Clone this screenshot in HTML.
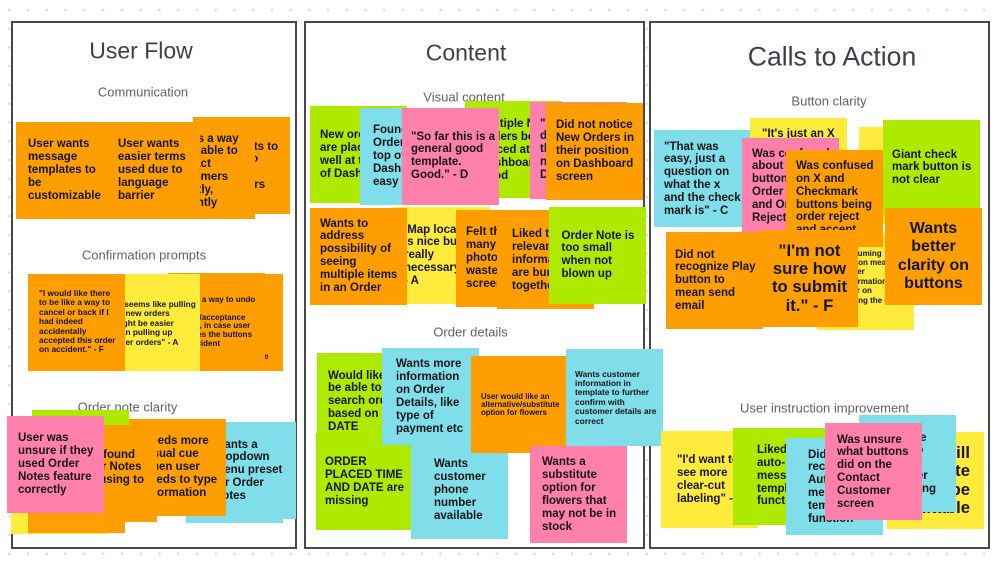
<!DOCTYPE html>
<html><head><meta charset="utf-8"><style>
html,body{margin:0;padding:0;width:1000px;height:563px;overflow:hidden;background:#fff}
#r{position:relative;width:1000px;height:563px;overflow:hidden;background-color:#fff;background-image:radial-gradient(circle at center,#dedede 0,#dedede 1.1px,transparent 1.6px);background-size:18.75px 18.75px;background-position:0 .6px;font-family:"Liberation Sans",sans-serif}
.pn{position:absolute;background:#fff;border:2px solid #45484c;box-sizing:border-box;top:21px;height:528px}
.t{position:absolute;white-space:nowrap;transform:translate(-50%,-50%);color:#3c4148}
.l{position:absolute;white-space:nowrap;transform:translate(-50%,-50%);color:#5f6266;font-size:13px}
.s{position:absolute;width:97px;height:97px;overflow:hidden}
.s p{position:absolute;margin:0;white-space:nowrap;font-weight:bold;font-size:11.5px;line-height:12.9px;color:#151515}
.o{background:#ff9e00}.y{background:#ffeb3b}.g{background:#aeea00}.c{background:#80deea}.k{background:#ff80ab}
</style></head><body><div id="r">
<div class="pn" style="left:11px;width:286px"></div>
<div class="pn" style="left:304px;width:341px"></div>
<div class="pn" style="left:649px;width:341px"></div>

<div class="t" style="left:141px;top:51px;font-size:23px">User Flow</div>
<div class="t" style="left:466px;top:53px;font-size:23px">Content</div>
<div class="t" style="left:832px;top:57px;font-size:26.6px">Calls to Action</div>
<div class="l" style="left:143px;top:92px">Communication</div>
<div class="l" style="left:144px;top:255px">Confirmation prompts</div>
<div class="l" style="left:127.5px;top:407px">Order note clarity</div>
<div class="l" style="left:464px;top:96.5px">Visual content</div>
<div class="l" style="left:470.5px;top:332px">Order details</div>
<div class="l" style="left:829px;top:101px">Button clarity</div>
<div class="l" style="left:824.5px;top:407.5px">User instruction improvement</div>

<!-- User Flow: Communication -->
<div class="s o" style="left:193px;top:117px"><p style="left:37px;top:23.5px">Wants to<br>go to<br><br>others</p></div>
<div class="s o" style="left:158px;top:122px"><p style="left:12px;top:10.5px">Wants a way<br>to be able to<br>contact<br>customers<br>directly,<br>instantly</p></div>
<div class="s o" style="left:16px;top:122px"><p style="left:12px;top:16px">User wants<br>message<br>templates to<br>be<br>customizable</p></div>
<div class="s o" style="left:103px;top:122px"><p style="left:15px;top:16px">User wants<br>easier terms<br>used due to<br>language<br>barrier</p></div>

<!-- Confirmation prompts -->
<div class="s o" style="left:186px;top:274px"><p style="left:56px;top:76px;font-size:8.4px">Please</p></div>
<div class="s o" style="left:168px;top:273px"><p style="left:8px;top:23px;font-size:8px;line-height:8.8px">Wants a way to undo<br><br>action/acceptance<br>action, in case user<br>presses the buttons<br>by accident</p></div>
<div class="s y" style="left:103px;top:274px"><p style="left:10px;top:26px;font-size:8.3px;line-height:9.4px">"It seems like pulling<br>up new orders<br>might be easier<br>than pulling up<br>older orders" - A</p></div>
<div class="s o" style="left:28px;top:274px"><p style="left:11px;top:15px;font-size:8.3px;line-height:9.4px">"I would like there<br>to be like a way to<br>cancel or back if I<br>had indeed<br>accidentally<br>accepted this order<br>on accident." - F</p></div>

<!-- Order note clarity -->
<div class="s g" style="left:32px;top:410px"></div>
<div class="s y" style="left:11px;top:437px"></div>
<div class="s o" style="left:28px;top:436px"><p style="left:12px;top:68px;font-size:8.4px">take</p></div>
<div class="s c" style="left:199px;top:422px"></div>
<div class="s c" style="left:186px;top:426px"><p style="left:28px;top:12.5px">Wants a<br>dropdown<br>menu preset<br>for Order<br>Notes</p></div>
<div class="s o" style="left:129px;top:419px"><p style="left:14px;top:16px">Needs more<br>visual cue<br>when user<br>needs to type<br>information</p></div>
<div class="s o" style="left:60px;top:425px"><p style="left:15px;top:23.5px">Also found<br>Order Notes<br>confusing to</p></div>
<div class="s k" style="left:7px;top:416px"><p style="left:11px;top:16px">User was<br>unsure if they<br>used Order<br>Notes feature<br>correctly</p></div>

<!-- Visual content -->
<div class="s g" style="left:310px;top:106px"><p style="left:10px;top:23px">New orders<br>are placed<br>well at top<br>of Dashboard</p></div>
<div class="s c" style="left:360px;top:108px"><p style="left:13px;top:16px">Found New<br>Orders at<br>top of<br>Dashboard<br>easy</p></div>
<div class="s g" style="left:465px;top:101px"><p style="left:15px;top:17px">Multiple New<br>Orders being<br>placed at<br>Dashboard<br>good</p></div>
<div class="s k" style="left:530px;top:102px"><p style="left:10px;top:15.5px">"Very<br>don't<br>the<br>new<br>Dash</p></div>
<div class="s k" style="left:402px;top:108px"><p style="left:9px;top:22.5px">"So far this is a<br>general good<br>template.<br>Good." - D</p></div>
<div class="s o" style="left:546px;top:103px"><p style="left:10px;top:16px">Did not notice<br>New Orders in<br>their position<br>on Dashboard<br>screen</p></div>

<div class="s y" style="left:393px;top:207px"><p style="left:11px;top:16.5px">&nbsp;Map location<br>is nice but not<br>really<br>necessary<br>- A</p></div>
<div class="s o" style="left:310px;top:208px"><p style="left:10px;top:9.5px">Wants to<br>address<br>possibility of<br>seeing<br>multiple items<br>in an Order</p></div>
<div class="s o" style="left:456px;top:210px"><p style="left:10px;top:16px">Felt that<br>many<br>photos<br>wasted<br>screen</p></div>
<div class="s o" style="left:497px;top:212px"><p style="left:15px;top:16px">Liked that<br>relevant<br>information<br>are bundled<br>together</p></div>
<div class="s g" style="left:549px;top:207px"><p style="left:12.5px;top:22.5px">Order Note is<br>too small<br>when not<br>blown up</p></div>

<!-- Order details -->
<div class="s g" style="left:317px;top:353px"><p style="left:11px;top:16.5px">Would like to<br>be able to<br>search orders<br>based on<br>DATE</p></div>
<div class="s g" style="left:316px;top:433px"><p style="left:9px;top:23px">ORDER<br>PLACED TIME<br>AND DATE are<br>missing</p></div>
<div class="s c" style="left:411px;top:442px"><p style="left:23px;top:16px">Wants<br>customer<br>phone<br>number<br>available</p></div>
<div class="s c" style="left:382px;top:348px"><p style="left:14px;top:10px">Wants more<br>information<br>on Order<br>Details, like<br>type of<br>payment etc</p></div>
<div class="s o" style="left:471px;top:356px"><p style="left:10px;top:36.5px;font-size:7.8px;line-height:8.4px">User would like an<br>alternative/substitute<br>option for flowers</p></div>
<div class="s c" style="left:566px;top:349px"><p style="left:9px;top:20.5px;font-size:8.4px;line-height:9.4px">Wants customer<br>information in<br>template to further<br>confirm with<br>customer details are<br>correct</p></div>
<div class="s k" style="left:530px;top:446px"><p style="left:12px;top:10px">Wants a<br>substitute<br>option for<br>flowers that<br>may not be in<br>stock</p></div>

<!-- Button clarity -->
<div class="s c" style="left:654px;top:130px"><p style="left:10px;top:10.5px">"That was<br>easy, just a<br>question on<br>what the x<br>and the check<br>mark is" - C</p></div>
<div class="s y" style="left:750px;top:118px"><p style="left:12px;top:9.8px">"It's just an X</p></div>
<div class="s y" style="left:859px;top:127px"></div>
<div class="s k" style="left:742px;top:138px"><p style="left:10px;top:9.5px">Was confused<br>about the<br>buttons for<br>Order Accept<br>and Order<br>Reject</p></div>
<div class="s y" style="left:817px;top:233px"><p style="left:26px;top:15.5px;font-size:8px;line-height:9.4px">Assuming<br>button means<br>hover<br>information to<br>user on<br>during the order</p></div>
<div class="s o" style="left:786px;top:150px"><p style="left:10px;top:9.8px">Was confused<br>on X and<br>Checkmark<br>buttons being<br>order reject<br>and accept</p></div>
<div class="s g" style="left:883px;top:120px"><p style="left:9px;top:28.5px">Giant check<br>mark button is<br>not clear</p></div>
<div class="s o" style="left:666px;top:232px"><p style="left:9px;top:16.5px">Did not<br>recognize Play<br>button to<br>mean send<br>email</p></div>
<div class="s o" style="left:761px;top:230px"><p style="left:0;width:97px;text-align:center;top:11.7px;font-size:16.7px;line-height:18.3px">"I'm not<br>sure how<br>to submit<br>it." - F</p></div>
<div class="s o" style="left:885px;top:208px"><p style="left:0;width:97px;text-align:center;top:12px;font-size:16px;line-height:18.3px">Wants<br>better<br>clarity on<br>buttons</p></div>

<!-- User instruction improvement -->
<div class="s y" style="left:661px;top:431px"><p style="left:16px;top:22.8px">"I'd want to<br>see more<br>clear-cut<br>labeling" - C</p></div>
<div class="s y" style="left:887px;top:432px"><p style="right:14px;text-align:right;top:12px;font-size:16.7px;line-height:18.4px">It will<br>generate<br>would be<br>editable</p></div>
<div class="s g" style="left:733px;top:428px"><p style="left:24px;top:15.8px">Liked the<br>auto-<br>message<br>template<br>function</p></div>
<div class="s c" style="left:859px;top:415px"><p style="left:17px;top:16.5px">Liked the<br>ability to<br><br>customer<br>messaging</p></div>
<div class="s c" style="left:786px;top:438px"><p style="left:22px;top:10.5px">Did not<br>recognize<br>Auto<br>message<br>template<br>function</p></div>
<div class="s k" style="left:825px;top:423px"><p style="left:12px;top:10.5px">Was unsure<br>what buttons<br>did on the<br>Contact<br>Customer<br>screen</p></div>
</div></body></html>
